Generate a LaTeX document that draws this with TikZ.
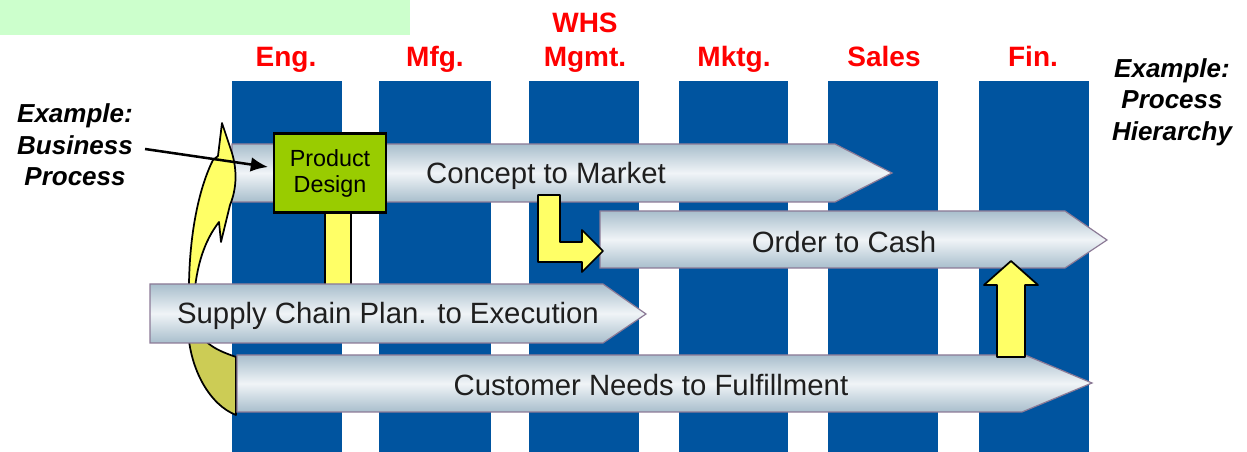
\documentclass[tikz,border=0pt]{standalone}
\usepackage{fontspec}
\setmainfont{Liberation Sans}
\usetikzlibrary{arrows.meta}

\definecolor{colblue}{RGB}{0,84,159}
\definecolor{hdred}{RGB}{255,0,0}
\definecolor{barend}{RGB}{168,190,204}
\definecolor{barmid}{RGB}{240,244,247}
\definecolor{barline}{RGB}{140,122,150}
\definecolor{pdgreen}{RGB}{153,204,0}
\definecolor{hlyellow}{RGB}{255,255,102}
\definecolor{backolive}{RGB}{204,204,85}
\definecolor{mint}{RGB}{204,255,204}

\tikzset{
  dept/.style={font=\fontsize{21}{26}\selectfont\bfseries, text=hdred, inner sep=0pt, align=center},
  exnote/.style={font=\fontsize{19.5}{23.5}\selectfont\bfseries\itshape, inner sep=0pt, align=center},
  bar/.style={draw=barline, line width=0.9pt, top color=barend, bottom color=barend, middle color=barmid},
  bartext/.style={font=\fontsize{22}{26}\selectfont, text=black!88, inner sep=0pt},
  hl/.style={draw=black, line width=1.3pt, fill=hlyellow, line join=round},
}

\begin{document}
\begin{tikzpicture}[x=0.75pt,y=-0.75pt]
    \useasboundingbox (0,0) rectangle (1247,452);
    \fill[mint] (0,0) rectangle (410,35);

    % department columns
    \fill[colblue] (232,81) rectangle (342,452);
    \fill[colblue] (379,81) rectangle (491,452);
    \fill[colblue] (529,81) rectangle (639,452);
    \fill[colblue] (679,81) rectangle (788,452);
    \fill[colblue] (828,81) rectangle (938,452);
    \fill[colblue] (979,81) rectangle (1089,452);

    \node[dept, anchor=base] (eng) at (286,67) {Eng.};
    \node[dept, anchor=base] (mfg) at (435,67) {Mfg.};
    \node[dept, anchor=south] (whs) at (585,73) {WHS\\Mgmt.};
    \node[dept, anchor=base] (mktg) at (734,67) {Mktg.};
    \node[dept, anchor=base] (sales) at (884,67) {Sales};
    \node[dept, anchor=base] (fin) at (1033,67) {Fin.};

    % process bars
    \draw[bar] (232,144) -- (835,144) -- (892,173) -- (835,202) -- (232,202) -- cycle;
    \node[bartext] (ctm) at (546,176) {Concept to Market};
    \draw[bar] (600,211) -- (1065,211) -- (1107,240) -- (1065,268) -- (600,268) -- cycle;
    \node[bartext] (otc) at (844,242) {Order to Cash};

    % curved arrow
    \draw[hl] (189,300) .. controls (188,240) and (198,190) .. (213,160) -- (218,156) -- (222,123)
        -- (232,153) .. controls (237,170) and (237,188) .. (230,205) -- (221,242)
        -- (219,222) .. controls (205,240) and (196,265) .. (194,300) -- cycle;
    \draw[hl, fill=backolive] (188,330) .. controls (190,370) and (210,405) .. (236,415)
        -- (236,357) .. controls (222,352) and (205,346) .. (198,330) -- cycle;

    \draw[hl] (325,205) rectangle (351,290);

    \draw[bar] (150,284) -- (603,284) -- (646,314) -- (603,343) -- (150,343) -- cycle;
    \node[bartext] (scp) at (388,316) {Supply Chain Plan. to Execution};
    \draw[bar] (237,355) -- (1025,355) -- (1092,383) -- (1022,412) -- (237,412) -- cycle;
    \node[bartext] (cnf) at (651,385) {Customer Needs to Fulfillment};

    % hand-offs
    \draw[hl] (538,195) -- (560,195) -- (560,242) -- (582,242) -- (582,230) -- (603,251)
        -- (582,272) -- (582,262) -- (538,262) -- cycle;
    \draw[hl] (997,357) -- (997,285) -- (984,285) -- (1011,261) -- (1038,285) -- (1025,285)
        -- (1025,357) -- cycle;

    \node[draw=black, line width=1.8pt, fill=pdgreen, minimum width=84pt, minimum height=59pt,
        align=center, font=\fontsize{17.5}{19.5}\selectfont, inner sep=0pt] (pd) at (330,173) {Product\\Design};

    \node[exnote] (bpex) at (75,145) {Example:\\Business\\Process};
    \node[exnote] (phex) at (1172,102) {Example:\\Process\\Hierarchy};

    \draw[line width=1.9pt, -{Latex[length=13pt,width=11pt]}] ([xshift=9pt,yshift=-3pt]bpex.east) -- ([xshift=-3.5pt,yshift=4.5pt]pd.west);
\end{tikzpicture}
\end{document}
